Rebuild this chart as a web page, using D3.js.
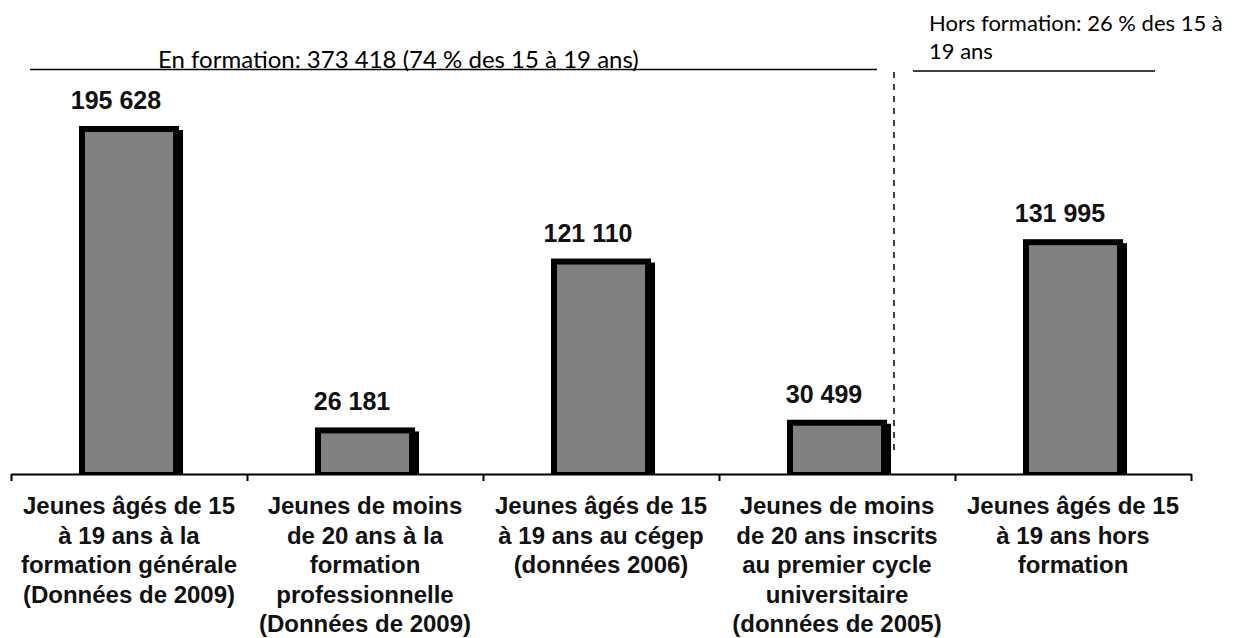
<!DOCTYPE html>
<html>
<head>
<meta charset="utf-8">
<script src="https://cdn.jsdelivr.net/npm/d3@7"></script>
<style>
  html, body { margin: 0; padding: 0; background: #fff; }
  svg { display: block; }
</style>
</head>
<body>
<svg id="chart" width="1238" height="638"></svg>
<script>
// ---- Data ----
const categories = [
  "Jeunes âgés de 15 à 19 ans à la formation générale (Données de 2009)",
  "Jeunes de moins de 20 ans à la formation professionnelle (Données de 2009)",
  "Jeunes âgés de 15 à 19 ans au cégep (données 2006)",
  "Jeunes de moins de 20 ans inscrits au premier cycle universitaire (données de 2005)",
  "Jeunes âgés de 15 à 19 ans hors formation"
];
const categoryLines = [
  ["Jeunes âgés de 15", "à 19 ans à la", "formation générale", "(Données de 2009)"],
  ["Jeunes de moins", "de 20 ans à la", "formation", "professionnelle", "(Données de 2009)"],
  ["Jeunes âgés de 15", "à 19 ans au cégep", "(données 2006)"],
  ["Jeunes de moins", "de 20 ans inscrits", "au premier cycle", "universitaire", "(données de 2005)"],
  ["Jeunes âgés de 15", "à 19 ans hors", "formation"]
];
const values = [195628, 26181, 121110, 30499, 131995];
const annotationIn = "En formation: 373 418 (74 % des 15 à 19 ans)";
const annotationOutLines = ["Hors formation: 26 % des 15 à", "19 ans"];

// ---- Setup ----
const svg = d3.select("#chart");
const fr = d3.formatLocale({decimal: ",", thousands: " ", grouping: [3], currency: ["", " $"]});
const fmt = fr.format(",d");

const axisY = 474;
const x = d3.scaleBand().domain(categories).range([11, 1191]).padding(0);
const xIdx = d3.scaleLinear().domain([0, categories.length]).range([11, 1191]);
const y = d3.scaleLinear().domain([0, 220000]).range([axisY, axisY - 220000 * 0.001779]);

const bw = x.bandwidth();
const barW = bw * 0.424;
const shadow = 4;
const border = 6;

const bars = svg.append("g");
categories.forEach((c, i) => {
  const bx = x(c) + (bw - barW) / 2;
  const by = y(values[i]);
  const h = axisY - by;
  // shadow
  bars.append("rect").attr("x", bx + shadow).attr("y", by + shadow)
    .attr("width", barW).attr("height", Math.max(0, h - shadow)).attr("fill", "#000");
  // main outer (black border)
  bars.append("rect").attr("x", bx).attr("y", by)
    .attr("width", barW).attr("height", h).attr("fill", "#000");
  // gray fill
  bars.append("rect").attr("x", bx + border).attr("y", by + border)
    .attr("width", barW - 2 * border).attr("height", h - border - 2).attr("fill", "#808080");
  // value label
  svg.append("text")
    .attr("x", x(c) + bw / 2 - 13)
    .attr("y", by - 17)
    .attr("text-anchor", "middle")
    .attr("font-family", "'Liberation Sans', Arial, sans-serif")
    .attr("font-weight", "bold")
    .attr("font-size", 25)
    .attr("fill", "#111")
    .text(fmt(values[i]));
  // category label
  const t = svg.append("text")
    .attr("text-anchor", "middle")
    .attr("font-family", "'Liberation Sans', Arial, sans-serif")
    .attr("font-weight", "bold")
    .attr("font-size", 24)
    .attr("fill", "#111");
  categoryLines[i].forEach((ln, j) => {
    t.append("tspan").attr("x", x(c) + bw / 2).attr("y", 514 + j * 29.6).text(ln);
  });
});

// ---- Axis ----
const axis = d3.axisBottom(xIdx).ticks(categories.length).tickSize(7).tickSizeOuter(0).tickFormat("");
const ag = svg.append("g").attr("transform", `translate(0,${axisY})`).call(axis);
ag.select(".domain").attr("stroke", "#000").attr("stroke-width", 2);
ag.selectAll(".tick line").attr("stroke", "#000").attr("stroke-width", 2);

// ---- Annotations ----
const annFont = "Lato, 'Open Sans', sans-serif";
svg.append("line").attr("x1", 30).attr("x2", 877).attr("y1", 69.5).attr("y2", 69.5)
  .attr("stroke", "#000").attr("stroke-width", 1.5);
svg.append("text").attr("x", 158).attr("y", 68)
  .attr("font-family", annFont).attr("font-size", 24).attr("fill", "#000")
  .text(annotationIn);

svg.append("line").attr("x1", 913).attr("x2", 1155).attr("y1", 71).attr("y2", 71)
  .attr("stroke", "#000").attr("stroke-width", 1.5);
const ho = svg.append("text").attr("font-family", annFont).attr("font-size", 22).attr("fill", "#000");
annotationOutLines.forEach((ln, j) => {
  ho.append("tspan").attr("x", 929).attr("y", 31 + j * 27.5).text(ln);
});

svg.append("line").attr("x1", 894).attr("x2", 894).attr("y1", 72).attr("y2", 454)
  .attr("stroke", "#000").attr("stroke-width", 1.5).attr("stroke-dasharray", "6,6");
</script>
</body>
</html>
